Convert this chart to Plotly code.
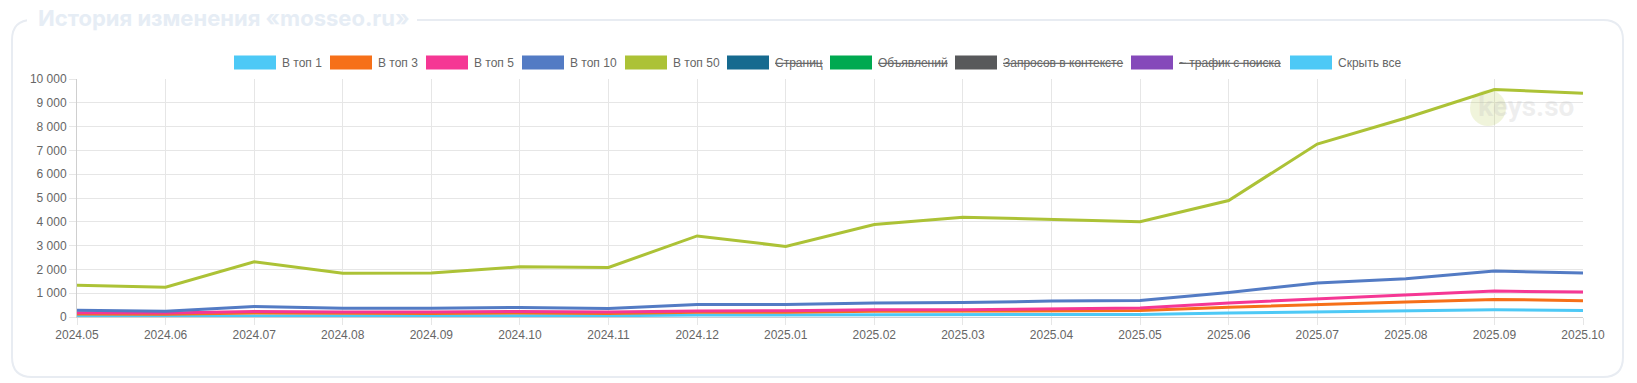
import plotly.graph_objects as go

# ---------------- data ----------------
months = ["2024.05", "2024.06", "2024.07", "2024.08", "2024.09", "2024.10",
          "2024.11", "2024.12", "2025.01", "2025.02", "2025.03", "2025.04",
          "2025.05", "2025.06", "2025.07", "2025.08", "2025.09", "2025.10"]

top1 = [40, 40, 55, 50, 50, 55, 55, 80, 85, 95, 100, 105, 110, 170, 210, 250, 305, 275]
top3 = [125, 115, 170, 150, 150, 165, 150, 195, 200, 240, 240, 265, 270, 405, 505, 630, 740, 685]
top5 = [180, 165, 235, 205, 210, 230, 205, 255, 260, 300, 305, 355, 380, 590, 755, 935, 1090, 1050]
top10 = [285, 240, 440, 370, 370, 400, 355, 520, 525, 590, 605, 670, 690, 1030, 1430, 1605, 1930, 1850]
top50 = [1330, 1250, 2320, 1835, 1845, 2110, 2085, 3405, 2965, 3890, 4195, 4105, 4000, 4895, 7265, 8360, 9560, 9400]

series_names = ["В топ 1", "В топ 3", "В топ 5", "В топ 10", "В топ 50"]
series_values = [top1, top3, top5, top10, top50]
series_colors = ["#4dc9f6", "#f67019", "#f53794", "#537bc4", "#acc236"]

legend_labels = ["В топ 1", "В топ 3", "В топ 5", "В топ 10", "В топ 50",
                 "Страниц", "Объявлений", "Запросов в контексте",
                 "~ трафик с поиска", "Скрыть все"]
legend_colors = ["#4dc9f6", "#f67019", "#f53794", "#537bc4", "#acc236",
                 "#166a8f", "#00a950", "#58595b", "#8549ba", "#4dc9f6"]
legend_hidden = [False, False, False, False, False, True, True, True, True, False]

y_tickvals = [0, 1000, 2000, 3000, 4000, 5000, 6000, 7000, 8000, 9000, 10000]
y_ticktext = ["0", "1 000", "2 000", "3 000", "4 000", "5 000",
              "6 000", "7 000", "8 000", "9 000", "10 000"]

title_text = "История изменения «mosseo.ru»"

# ---------------- layout geometry (pixels) ----------------
W, H = 1637, 383
PL, PR, PT, PB = 77, 1583, 79, 317  # plot area


def px(x):
    return (x - PL) / (PR - PL)


def py(y):
    return (PB - y) / (PB - PT)


fig = go.Figure()
for name, vals, col in zip(series_names, series_values, series_colors):
    fig.add_trace(go.Scatter(x=months, y=vals, name=name, mode="lines",
                             line=dict(color=col, width=3), showlegend=False))

shapes = []
annotations = []

# card with rounded corners
cx0, cy0, cx1, cy1, r = 12, 20, 1623, 377, 20
path = (f"M {px(cx0 + r)},{py(cy0)} L {px(cx1 - r)},{py(cy0)} "
        f"Q {px(cx1)},{py(cy0)} {px(cx1)},{py(cy0 + r)} "
        f"L {px(cx1)},{py(cy1 - r)} Q {px(cx1)},{py(cy1)} {px(cx1 - r)},{py(cy1)} "
        f"L {px(cx0 + r)},{py(cy1)} Q {px(cx0)},{py(cy1)} {px(cx0)},{py(cy1 - r)} "
        f"L {px(cx0)},{py(cy0 + r)} Q {px(cx0)},{py(cy0)} {px(cx0 + r)},{py(cy0)} Z")
shapes.append(dict(type="path", xref="paper", yref="paper", path=path,
                   line=dict(color="#e8ecf2", width=2), fillcolor="rgba(0,0,0,0)",
                   layer="below"))
# title gap
shapes.append(dict(type="rect", xref="paper", yref="paper",
                   x0=px(27), x1=px(417), y0=py(26), y1=py(12),
                   fillcolor="white", line=dict(width=0), layer="below"))
annotations.append(dict(text=f"<b>{title_text}</b>", xref="paper", yref="paper",
                        x=px(36), y=py(18), xanchor="left", yanchor="middle",
                        showarrow=False,
                        font=dict(family="Inter", size=22, color="#e6edf5")))

# legend (Chart.js style boxes)
legend_x = [234, 330, 426, 522, 625, 727, 830, 955, 1131, 1290]
for lx, lab, col, hid in zip(legend_x, legend_labels, legend_colors, legend_hidden):
    shapes.append(dict(type="rect", xref="paper", yref="paper",
                       x0=px(lx), x1=px(lx + 42), y0=py(69.5), y1=py(55.5),
                       fillcolor=col, line=dict(width=0)))
    txt = f"<s>{lab}</s>" if hid else lab
    annotations.append(dict(text=txt, xref="paper", yref="paper",
                            x=px(lx + 46), y=py(62.5), xanchor="left", yanchor="middle",
                            showarrow=False,
                            font=dict(family="Liberation Sans", size=12,
                                      color="#666666")))

# watermark
shapes.append(dict(type="circle", xref="paper", yref="paper",
                   x0=px(1470), x1=px(1506), y0=py(126), y1=py(90),
                   fillcolor="rgba(172,194,54,0.18)", line=dict(width=0)))
annotations.append(dict(text="<b>keys.so</b>", xref="paper", yref="paper",
                        x=px(1526), y=py(106), xanchor="center", yanchor="middle",
                        showarrow=False,
                        font=dict(family="Roboto", size=28, color="rgba(190,190,190,0.25)")))

tick_font = dict(family="Liberation Sans", size=12, color="#666666")

fig.update_layout(
    width=W, height=H,
    margin=dict(l=PL, r=W - PR, t=PT, b=H - PB),
    paper_bgcolor="white", plot_bgcolor="white",
    showlegend=False,
    shapes=shapes, annotations=annotations,
    xaxis=dict(type="category", range=[0, len(months) - 1],
               showgrid=True, gridcolor="#e6e6e6", gridwidth=1,
               ticks="outside", ticklen=7, tickcolor="#e6e6e6",
               showline=True, linecolor="#cfcfcf", linewidth=1,
               tickfont=tick_font, zeroline=False),
    yaxis=dict(range=[0, 10000], tickvals=y_tickvals, ticktext=y_ticktext,
               showgrid=True, gridcolor="#e6e6e6", gridwidth=1,
               ticks="outside", ticklen=7, tickcolor="#e6e6e6",
               showline=True, linecolor="#cfcfcf", linewidth=1,
               tickfont=tick_font, zeroline=False),
)

fig.write_html("out.html", config={"displayModeBar": False},
               post_script="document.body.style.margin='0px';document.body.style.overflow='hidden';")
